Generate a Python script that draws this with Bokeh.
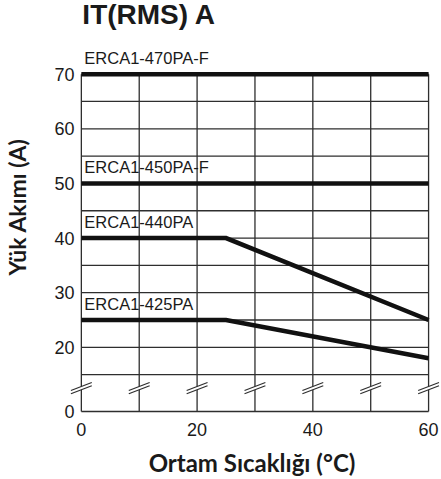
import math
from bokeh.plotting import figure
from bokeh.models import Range1d, FixedTicker, Label
from bokeh.embed import file_html
from bokeh.resources import INLINE

# ---- data ----
temps = [0, 25, 60]                      # ambient temperature (°C)
series_names = ["ERCA1-470PA-F", "ERCA1-450PA-F", "ERCA1-440PA", "ERCA1-425PA"]
i_470 = [70, 70, 70]                     # load current (A)
i_450 = [50, 50, 50]
i_440 = [40, 40, 25]
i_425 = [25, 25, 18]
x_ticks = [0, 20, 40, 60]
x_grid = [0, 10, 20, 30, 40, 50, 60]
y_ticks = [20, 30, 40, 50, 60, 70]
y_grid = [15, 20, 25, 30, 35, 40, 45, 50, 55, 60, 65, 70]

# broken axis: "0" is drawn just below the break
Y_ZERO = 8.25
BREAK_Y = 12.53

INK = "#111111"
GRID = "#2e2e2e"
TXT = "#1a1a1a"

p = figure(width=441, height=479,
           x_range=Range1d(-3.257, 62.232), y_range=Range1d(7.887, 83.479),
           output_backend="svg", toolbar_location=None,
           min_border_left=59, min_border_right=0,
           min_border_top=0, min_border_bottom=64)
p.outline_line_color = None
p.background_fill_color = "white"
p.xgrid.visible = False
p.ygrid.visible = False

# x axis
p.xaxis.ticker = FixedTicker(ticks=x_ticks)
p.xaxis.axis_label = "Ortam Sıcaklığı (°C)"
p.xaxis.axis_label_text_font = "Lato"
p.xaxis.axis_label_text_font_style = "bold"
p.xaxis.axis_label_text_font_size = "24px"
p.xaxis.axis_label_text_color = TXT
p.xaxis.axis_label_standoff = 9
p.xaxis.major_label_text_font = "Liberation Sans"
p.xaxis.major_label_text_font_size = "18px"
p.xaxis.major_label_text_color = TXT
p.xaxis.major_label_standoff = 3

# y axis
p.yaxis.ticker = FixedTicker(ticks=[Y_ZERO] + y_ticks)
p.yaxis.major_label_overrides = {Y_ZERO: "0"}
p.yaxis.major_label_text_font = "Liberation Sans"
p.yaxis.major_label_text_font_size = "18px"
p.yaxis.major_label_text_color = TXT
p.yaxis.major_label_standoff = -18
p.yaxis.axis_label = "Yük Akımı (A)"
p.yaxis.axis_label_text_font = "Lato"
p.yaxis.axis_label_text_font_style = "bold"
p.yaxis.axis_label_text_font_size = "23px"
p.yaxis.axis_label_text_color = TXT
p.yaxis.axis_label_standoff = 20

for ax in (p.xaxis, p.yaxis):
    ax.axis_line_color = None
    ax.major_tick_line_color = None
    ax.minor_tick_line_color = None

# chart title
p.add_layout(Label(x=0, y=70, x_offset=1, y_offset=44, text="IT(RMS) A",
                   text_font="Liberation Sans", text_font_style="bold",
                   text_font_size="28px", text_color=TXT))

# grid: vertical lines, horizontal lines, bottom border at the broken zero
p.segment(x0=x_grid, y0=[Y_ZERO] * len(x_grid), x1=x_grid, y1=[70] * len(x_grid),
          line_color=GRID, line_width=1.3)
p.segment(x0=[0] * len(y_grid), y0=y_grid, x1=[60] * len(y_grid), y1=y_grid,
          line_color=GRID, line_width=1.3)
p.segment(x0=[0], y0=[Y_ZERO], x1=[60], y1=[Y_ZERO], line_color=GRID, line_width=1.4)

# axis-break marks on every vertical grid line
dx, dy, s = 10.5 / 5.833, 4.0 / 5.49, 1.6 / 5.49
p.patches(xs=[[xv - dx, xv + dx, xv + dx, xv - dx] for xv in x_grid],
          ys=[[BREAK_Y - dy - s, BREAK_Y + dy - s, BREAK_Y + dy + s, BREAK_Y - dy + s]
              for _ in x_grid],
          fill_color="white", line_color=None)
bx0, by0, bx1, by1 = [], [], [], []
for xv in x_grid:
    for sign in (-1, 1):
        bx0.append(xv - dx); by0.append(BREAK_Y - dy + sign * s)
        bx1.append(xv + dx); by1.append(BREAK_Y + dy + sign * s)
p.segment(x0=bx0, y0=by0, x1=bx1, y1=by1, line_color=GRID, line_width=1.2)

# derating curves
for name, vals in zip(series_names, [i_470, i_450, i_440, i_425]):
    p.line(temps, vals, line_width=4.5, line_color=INK, line_cap="butt",
           line_join="miter")
    p.add_layout(Label(x=temps[0], y=vals[0], text=name, x_offset=3, y_offset=7,
                       text_font="Liberation Sans", text_font_size="16.5px",
                       text_color=TXT))

open("out.html", "w").write(file_html(p, INLINE))
